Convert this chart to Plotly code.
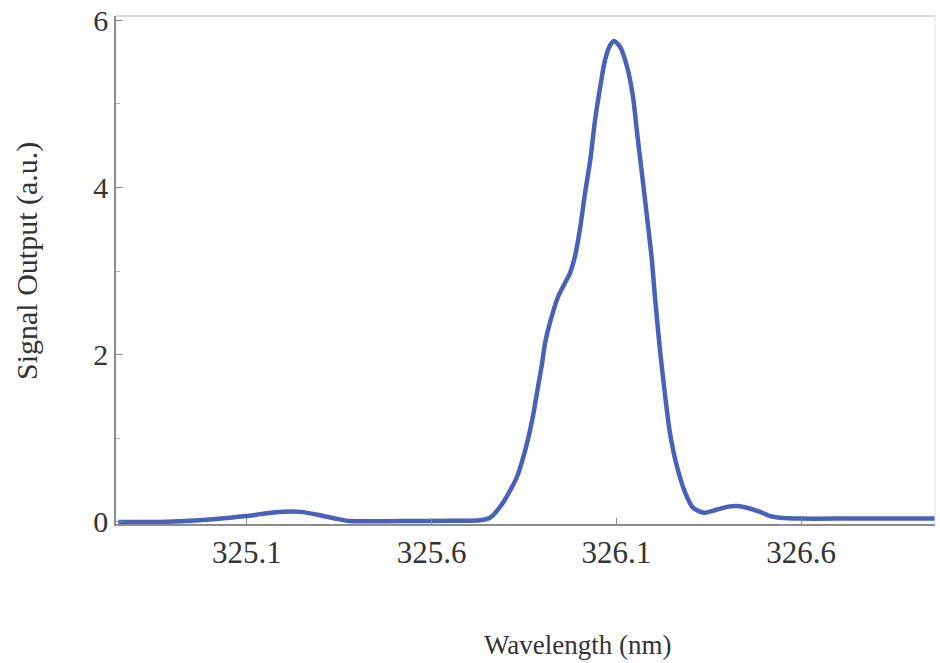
import plotly.graph_objects as go

# Data
wavelength_nm = [324.752, 324.865, 324.971, 325.055, 325.098, 325.149, 325.198, 325.244,
                 325.298, 325.339, 325.379, 325.515, 325.650, 325.731, 325.758, 325.793,
                 325.831, 325.858, 325.874, 325.888, 325.899, 325.907, 325.920, 325.942,
                 325.961, 325.974, 325.988, 326.002, 326.015, 326.029, 326.042, 326.056,
                 326.069, 326.083, 326.094, 326.110, 326.129, 326.145, 326.156, 326.169,
                 326.183, 326.196, 326.204, 326.218, 326.231, 326.245, 326.264, 326.286,
                 326.307, 326.337, 326.367, 326.399, 326.426, 326.453, 326.489, 326.516,
                 326.543, 326.597, 326.732, 326.867, 326.976]
signal_au = [0.00, 0.00, 0.02, 0.05, 0.07, 0.10, 0.12, 0.12,
             0.08, 0.04, 0.01, 0.01, 0.015, 0.02, 0.05, 0.23,
             0.54, 0.94, 1.26, 1.62, 1.90, 2.14, 2.38, 2.69,
             2.86, 2.97, 3.18, 3.52, 3.93, 4.32, 4.80, 5.20,
             5.52, 5.70, 5.75, 5.68, 5.44, 5.08, 4.65, 4.17,
             3.64, 3.13, 2.70, 2.05, 1.54, 1.06, 0.66, 0.35,
             0.17, 0.11, 0.14, 0.18, 0.19, 0.17, 0.12, 0.07,
             0.05, 0.04, 0.04, 0.04, 0.04]

x_ticks = [325.1, 325.6, 326.1, 326.6]
x_tick_labels = ["325.1", "325.6", "326.1", "326.6"]
y_ticks = [0, 2, 4, 6]
y_tick_labels = ["0", "2", "4", "6"]

FONT = "Liberation Serif"
TXT = "#333333"
AX = "#8c8c8c"

fig = go.Figure()
fig.add_trace(go.Scatter(
    x=wavelength_nm, y=signal_au, mode="lines",
    line=dict(color="#4862b8", width=4.5, shape="spline", smoothing=0.7),
    hoverinfo="skip", showlegend=False,
))

fig.update_layout(
    width=940, height=663,
    margin=dict(l=116, r=5, t=16, b=139),
    paper_bgcolor="white", plot_bgcolor="white",
    font=dict(family=FONT, color=TXT, size=30),
    xaxis=dict(
        range=[324.746, 326.962], showgrid=False, zeroline=False,
        showline=True, linecolor=AX, linewidth=1.5,
        tickvals=x_ticks, ticktext=x_tick_labels,
        ticks="inside", ticklen=6, tickcolor=AX, tickwidth=1,
        tickfont=dict(family=FONT, size=31, color=TXT),
    ),
    yaxis=dict(
        range=[-0.025, 6.05], showgrid=False, zeroline=False,
        showline=True, linecolor=AX, linewidth=1.5,
        tickvals=y_ticks, ticktext=y_tick_labels,
        ticks="inside", ticklen=7, tickcolor=AX, tickwidth=1,
        minor=dict(tickvals=[1, 3, 5], ticks="inside", ticklen=4, tickcolor="#b0b0b0"),
        tickfont=dict(family=FONT, size=30, color=TXT),
    ),
    shapes=[
        dict(type="line", xref="paper", yref="paper", x0=0, x1=1, y0=1, y1=1,
             line=dict(color="#cfcfcf", width=1.5)),
        dict(type="line", xref="paper", yref="paper", x0=1, x1=1, y0=0, y1=1,
             line=dict(color="#e0e0e0", width=1)),
    ],
    annotations=[
        dict(text="Wavelength (nm)", xref="paper", yref="paper",
             x=(578 - 116) / 819, y=-(645 - 524) / 508, showarrow=False,
             xanchor="center", yanchor="middle",
             font=dict(family=FONT, size=27, color=TXT)),
        dict(text="Signal Output (a.u.)", xref="paper", yref="paper",
             x=-(116 - 27) / 819, y=(524 - 261) / 508, showarrow=False,
             textangle=-90, xanchor="center", yanchor="middle",
             font=dict(family=FONT, size=30, color=TXT)),
    ],
)

fig.write_html("out.html")
